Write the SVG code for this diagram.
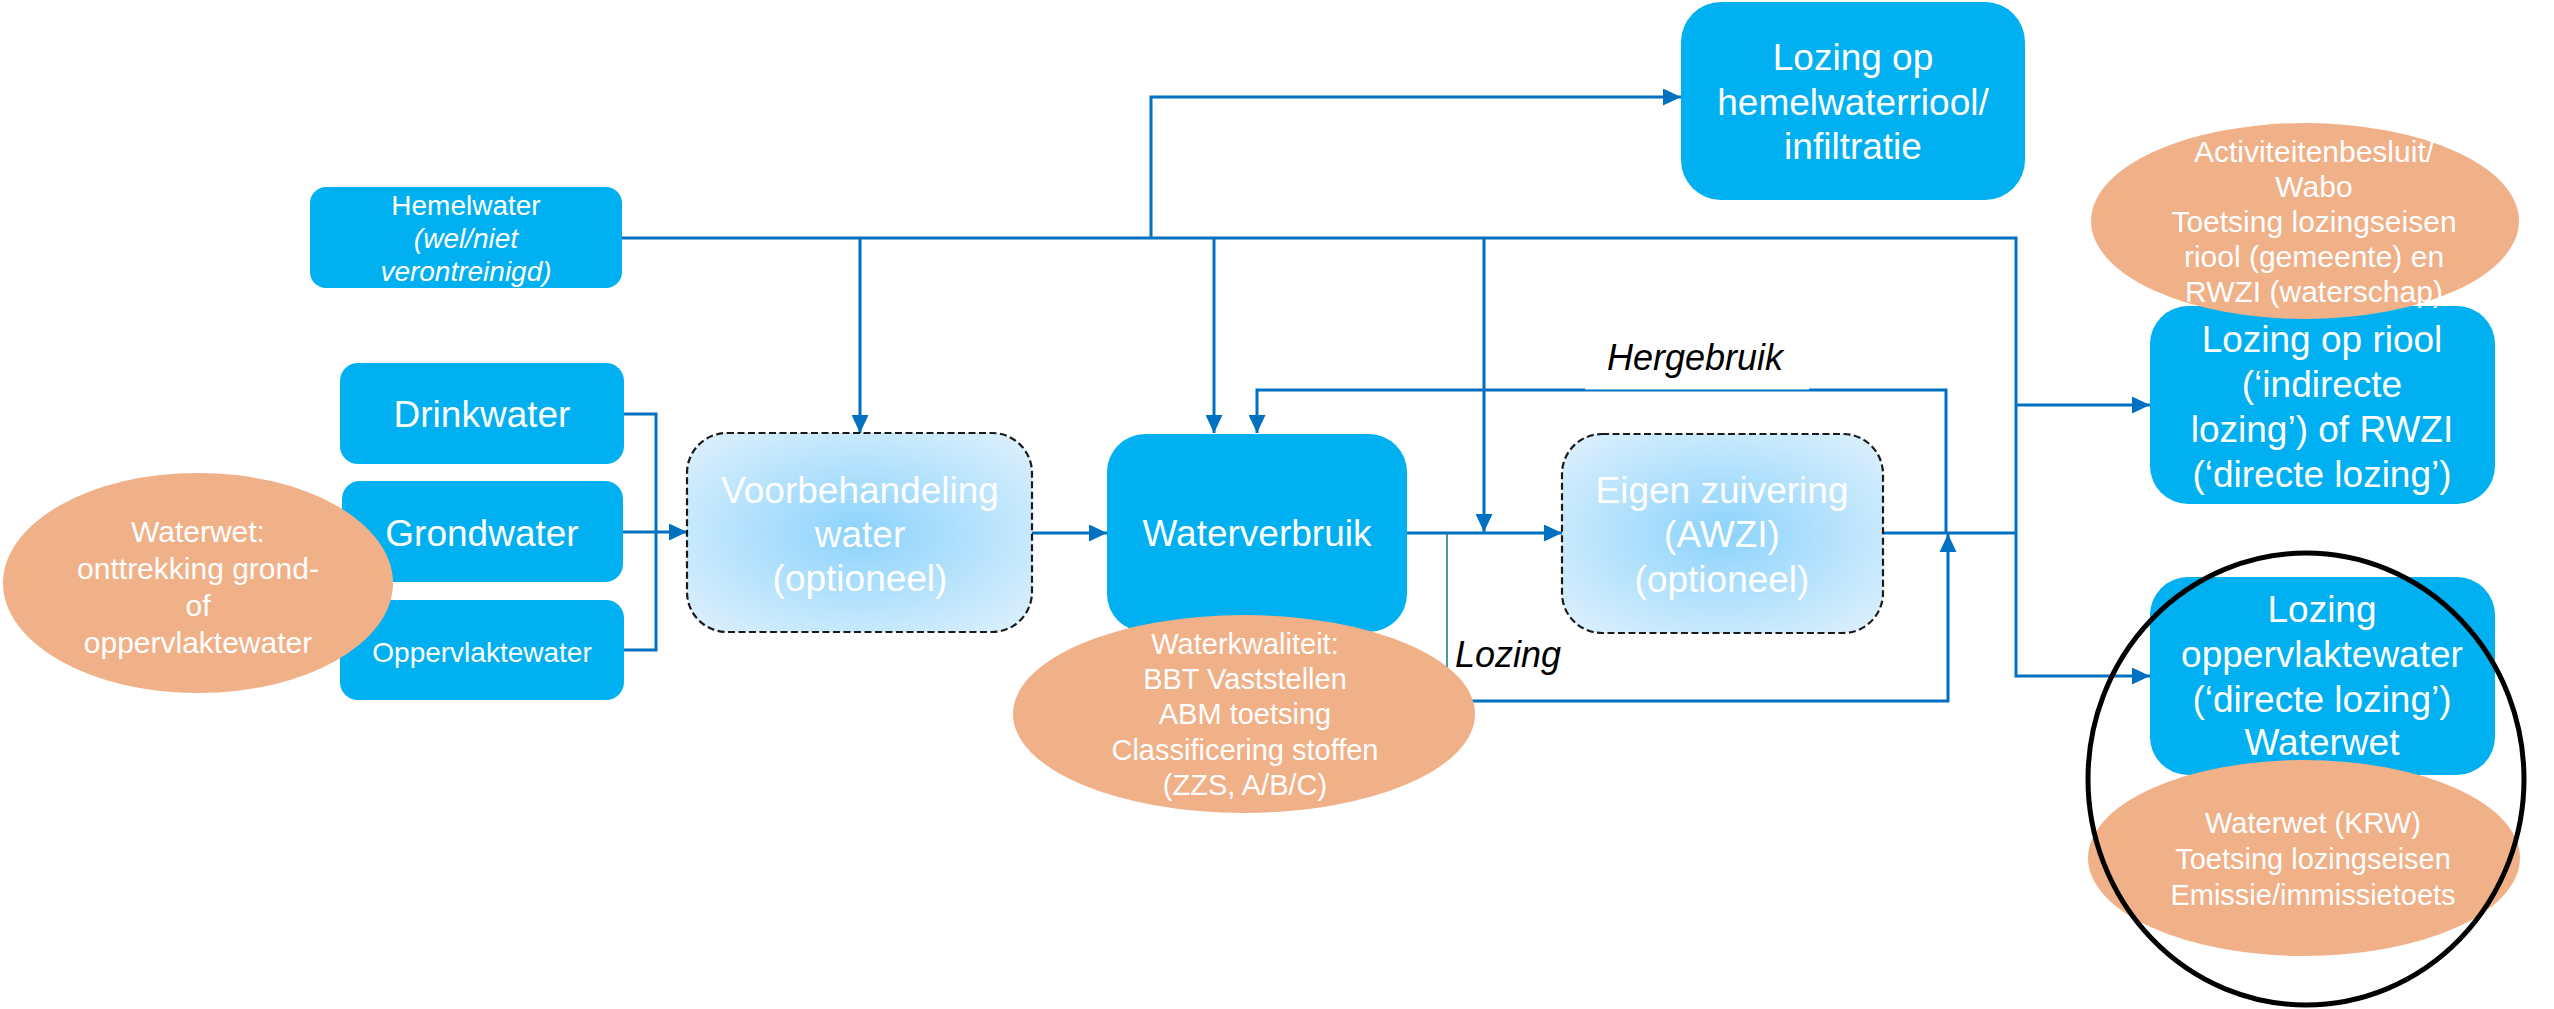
<svg xmlns="http://www.w3.org/2000/svg" width="2554" height="1009" viewBox="0 0 2554 1009">
<style>
text{font-family:"Liberation Sans",Arial,sans-serif;fill:#FFFFFF;text-anchor:middle}
.box{fill:#00B0F0}
.opt{fill:url(#rg);stroke:#1A1A1A;stroke-width:2.2;stroke-dasharray:7 3.5}
.ell{fill:#F0B088}
.c{fill:none;stroke:#0070C0;stroke-width:3}
.t37{font-size:37px}
.t30{font-size:30px}
.t29{font-size:29px}
.t28{font-size:28px}
.lbl{fill:#000000;font-style:italic;font-size:36px;text-anchor:start}
</style>
<defs>
<radialGradient id="rg" cx="0.5" cy="0.5" r="0.62">
<stop offset="0" stop-color="#8CD3FC"/>
<stop offset="1" stop-color="#D6EEFD"/>
</radialGradient>
<marker id="ah" markerUnits="userSpaceOnUse" markerWidth="19" markerHeight="17" refX="18" refY="8.5" orient="auto">
<path d="M0,0 L18,8.5 L0,17 z" fill="#0070C0"/>
</marker>
</defs>
<rect width="2554" height="1009" fill="#FFFFFF"/>

<g id="connectors">
<path class="c" d="M622,238 H2016 V676 H2150" marker-end="url(#ah)"/>
<path class="c" d="M2016,405 H2150" marker-end="url(#ah)"/>
<path class="c" d="M1151,238 V97 H1681" marker-end="url(#ah)"/>
<path class="c" d="M860,238 V433" marker-end="url(#ah)"/>
<path class="c" d="M1214,238 V433" marker-end="url(#ah)"/>
<path class="c" d="M1484,238 V532" marker-end="url(#ah)"/>
<path class="c" d="M624,414 H656 V650 H624"/>
<path class="c" d="M622,532 H687" marker-end="url(#ah)"/>
<path class="c" d="M1032,533 H1107" marker-end="url(#ah)"/>
<path class="c" d="M1407,533 H1562" marker-end="url(#ah)"/>
<path class="c" d="M1883,533 H2016"/>
<path class="c" d="M1946,533 V390 H1257 V433" marker-end="url(#ah)"/>
<path d="M1447,533 V701" fill="none" stroke="#1F7F86" stroke-width="1.6"/>
<path class="c" d="M1447,701 H1948 V534" marker-end="url(#ah)"/>
</g>

<g id="label-hergebruik">
<rect x="1585" y="340" width="224" height="49.5" fill="#FFFFFF"/>
<text class="lbl" x="1607" y="370">Hergebruik</text>
</g>
<g id="label-lozing">
<text class="lbl" x="1455" y="667">Lozing</text>
</g>

<g id="hemelwater">
<rect class="box" x="310" y="187" width="312" height="101" rx="16"/>
<text class="t28" x="466" y="215">Hemelwater</text>
<text class="t28" x="466" y="248" font-style="italic">(wel/niet</text>
<text class="t28" x="466" y="281" font-style="italic">verontreinigd)</text>
</g>

<g id="drinkwater">
<rect class="box" x="340" y="363" width="284" height="101" rx="18"/>
<text class="t37" x="482" y="427">Drinkwater</text>
</g>

<g id="grondwater">
<rect class="box" x="342" y="481" width="281" height="101" rx="18"/>
<text class="t37" x="482" y="546">Grondwater</text>
</g>

<g id="oppervlaktewater">
<rect class="box" x="340" y="600" width="284" height="100" rx="18"/>
<text class="t28" x="482" y="662">Oppervlaktewater</text>
</g>

<g id="waterwet-onttrekking">
<ellipse class="ell" cx="198" cy="583" rx="195" ry="110"/>
<text class="t30" x="198" y="542">Waterwet:</text>
<text class="t30" x="198" y="579">onttrekking grond-</text>
<text class="t30" x="198" y="616">of</text>
<text class="t30" x="198" y="653">oppervlaktewater</text>
</g>

<g id="voorbehandeling">
<rect class="opt" x="687" y="433" width="345" height="199" rx="40"/>
<text class="t37" x="860" y="503">Voorbehandeling</text>
<text class="t37" x="860" y="547">water</text>
<text class="t37" x="860" y="591">(optioneel)</text>
</g>

<g id="waterverbruik">
<rect class="box" x="1107" y="434" width="300" height="198" rx="38"/>
<text class="t37" x="1257" y="546">Waterverbruik</text>
</g>

<g id="waterkwaliteit">
<ellipse class="ell" cx="1244" cy="714" rx="231" ry="99"/>
<text class="t29" x="1245" y="654">Waterkwaliteit:</text>
<text class="t29" x="1245" y="689">BBT Vaststellen</text>
<text class="t29" x="1245" y="724">ABM toetsing</text>
<text class="t29" x="1245" y="760">Classificering stoffen</text>
<text class="t29" x="1245" y="795">(ZZS, A/B/C)</text>
</g>

<g id="eigen-zuivering">
<rect class="opt" x="1562" y="434" width="321" height="199" rx="40"/>
<text class="t37" x="1722" y="503">Eigen zuivering</text>
<text class="t37" x="1722" y="547">(AWZI)</text>
<text class="t37" x="1722" y="592">(optioneel)</text>
</g>

<g id="lozing-hemelwaterriool">
<rect class="box" x="1681" y="2" width="344" height="198" rx="40"/>
<text class="t37" x="1853" y="70">Lozing op</text>
<text class="t37" x="1853" y="115">hemelwaterriool/</text>
<text class="t37" x="1853" y="159">infiltratie</text>
</g>

<g id="lozing-riool">
<rect class="box" x="2150" y="306" width="345" height="198" rx="38"/>
<text class="t37" x="2322" y="352">Lozing op riool</text>
<text class="t37" x="2322" y="397">(‘indirecte</text>
<text class="t37" x="2322" y="442">lozing’) of RWZI</text>
<text class="t37" x="2322" y="487">(‘directe lozing’)</text>
</g>

<g id="activiteitenbesluit">
<ellipse class="ell" cx="2305" cy="221" rx="214" ry="98"/>
<text class="t30" x="2314" y="162">Activiteitenbesluit/</text>
<text class="t30" x="2314" y="197">Wabo</text>
<text class="t30" x="2314" y="232">Toetsing lozingseisen</text>
<text class="t30" x="2314" y="267">riool (gemeente) en</text>
<text class="t30" x="2314" y="302">RWZI (waterschap)</text>
</g>

<g id="lozing-oppervlaktewater">
<rect class="box" x="2150" y="577" width="345" height="198" rx="38"/>
<text class="t37" x="2322" y="622">Lozing</text>
<text class="t37" x="2322" y="667">oppervlaktewater</text>
<text class="t37" x="2322" y="712">(‘directe lozing’)</text>
<text class="t37" x="2322" y="755">Waterwet</text>
</g>

<g id="waterwet-krw">
<ellipse class="ell" cx="2304" cy="858" rx="216" ry="98"/>
<text class="t29" x="2313" y="833">Waterwet (KRW)</text>
<text class="t29" x="2313" y="869">Toetsing lozingseisen</text>
<text class="t29" x="2313" y="905">Emissie/immissietoets</text>
</g>

<g id="highlight-circle">
<ellipse cx="2306" cy="779" rx="218" ry="226" fill="none" stroke="#000000" stroke-width="5"/>
</g>
</svg>
